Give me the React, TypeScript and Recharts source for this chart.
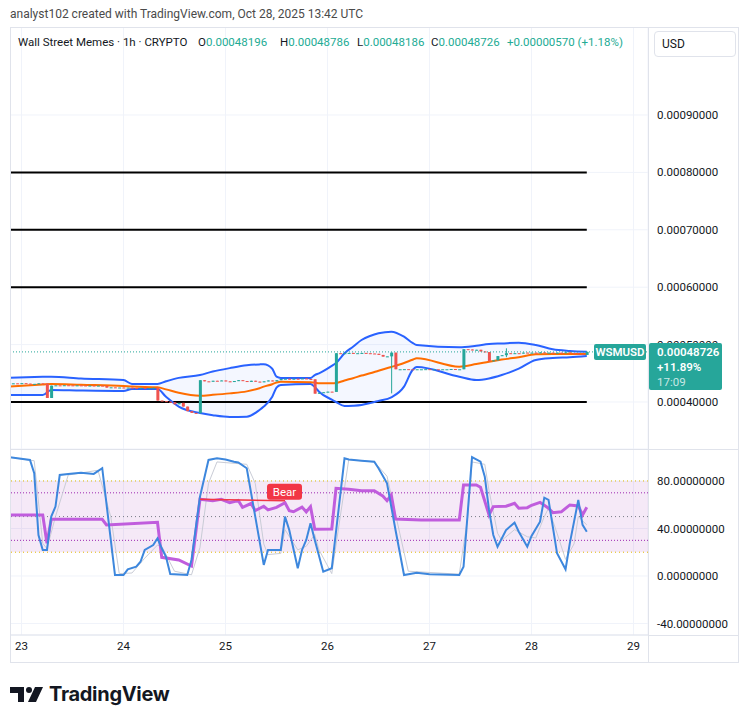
import React from 'react';
import {
  ComposedChart, Bar, Line, Area, XAxis, YAxis, CartesianGrid,
  ReferenceLine, ReferenceArea, ReferenceDot,
} from 'recharts';

// ---------------- data (price unit: 1e-6 USD, hour 0 = Oct 23 00:00 UTC) ----------------
const FIRST_HOUR = -2;
const firstOpen = 432.0;
const closes = [
  432.5, 432.0, 432.8, 432.0, 431.5, 431.6, 432.5, 432.0, 407.0, 428.5, // -2..7
  429.0, 428.5, 429.2, 429.0, 428.5, 429.0, 428.8, 428.4, 428.6, 428.0, // 8..17
  428.5, 428.0, 425.0, 425.5, 425.0, 425.2, 424.5, 425.0, 424.5, 424.0, // 18..27
  424.6, 424.0, 424.2, 424.8, 402.5, 401.5, 400.5, 399.5, 396.0, 398.5, // 28..37
  392.0, 384.0, 381.0, 380.5, 438.0, 436.0, 435.5, 437.0, 436.5, 437.5, // 38..47
  436.0, 435.0, 436.5, 438.0, 436.5, 435.0, 437.0, 435.5, 434.5, 436.0, // 48..57
  437.5, 436.0, 438.0, 440.0, 440.5, 439.5, 440.5, 440.0, 441.0, 440.0, // 58..67
  439.5, 414.5, 416.0, 417.0, 418.0, 417.5, 485.0, 484.5, 485.0, 485.5, // 68..77
  484.5, 485.0, 485.5, 485.0, 484.5, 484.0, 482.0, 479.0, 479.5, 486.0, // 78..87
  457.0, 457.0, 457.2, 457.0, 456.8, 457.0, 457.0, 457.2, 457.0, 457.0, // 88..97
  456.8, 457.0, 457.0, 457.5, 457.0, 457.0, 492.0, 491.5, 490.0, 491.0, // 98..107
  488.0, 487.0, 471.0, 472.5, 480.0, 481.5, 485.0, 484.0, 485.0, 484.5, // 108..117
  486.0, 485.5, 486.0, 485.0, 486.5, 485.5, 486.0, 485.0, 486.0, 485.5, // 118..127
  486.5, 485.0, 484.5, 483.5, 481.96, 487.26,                           // 128..133
];
const wickHours = [87, 114, 133];
const wickHighs = [486.5, 493.5, 487.86];
const wickLows = [415.0, 478.0, 481.86];

const bandHours = [-3, 5, 7, 14, 24, 26, 32, 34, 37, 42, 45, 49, 53, 56, 57, 59, 60, 61, 68, 69, 70, 73, 74, 76, 78, 80, 82, 84, 87, 90, 92, 93, 103, 107, 110, 113, 117, 121, 125, 129, 133];
const bandUpper = [442.3, 443.8, 444, 441, 438.3, 431.4, 431.4, 436, 442, 447, 453, 459, 464, 465.5, 465.7, 458, 444, 441.8, 441.8, 447, 450, 463, 468, 485, 496.3, 508, 515, 519.7, 522.5, 513.8, 503, 499.3, 495.3, 498, 501, 502, 503.3, 499.3, 491.8, 489, 487.6];
const bandLower = [412.2, 412.2, 421, 420, 419.2, 422.6, 422.6, 409, 392, 380.8, 377, 373.9, 374.4, 386, 392, 409.2, 425, 429.6, 431.4, 426, 418, 404, 400, 393, 393.5, 394.8, 398, 402, 408.2, 426.7, 455.7, 461, 444, 438.3, 441, 447, 458, 473.2, 476.5, 477.9, 480.1];
const bandBasis = [426.7, 430.5, 431.4, 430, 427.9, 426.8, 425.6, 422, 416, 411, 412.5, 415, 418.5, 424, 426.7, 431, 434, 435.4, 434.3, 433.8, 432.6, 432.6, 433, 437.5, 441.5, 446, 450, 454.5, 461, 468, 473.5, 476.1, 461.5, 466, 470.2, 474, 478, 483.1, 483.5, 483.6, 483.6];

const levelLines = [400, 600, 700, 800];
const priceTicks = [400, 500, 600, 700, 800, 900];
const dayTicks = [0, 24, 48, 72, 96, 120, 144];
const dayLabels = ['23', '24', '25', '26', '27', '28', '29'];

const kHours = [-3, 2, 3, 4, 5, 6, 7, 8, 9, 11, 14, 17, 19, 22, 24, 25, 27, 28, 29, 31, 32, 33, 34, 35, 39, 40, 42, 44, 46, 48, 50, 51, 53, 55, 57, 58, 61, 62, 63, 65, 66, 67, 68, 69, 71, 73, 76, 77, 80, 83, 84, 86, 88, 90, 93, 96, 103, 104, 106, 108, 109, 110, 111, 112, 114, 116, 117, 119, 120, 122, 123, 124, 125, 126, 128, 129, 131, 132, 133];
const kValues = [100, 97.7, 86.5, 34.5, 21.9, 21.9, 50, 58.4, 85, 85.9, 87, 85.9, 90.7, 0.8, 0.8, 5.6, 7.8, 12, 21.9, 26, 31.7, 23.3, 16.2, 1.7, 0.8, 13.5, 66.8, 97.7, 99, 98, 96.2, 95.5, 90.7, 50, 9.3, 21.9, 21.9, 50, 38.7, 6.5, 21.9, 30.3, 44.4, 30.3, 3.6, 6.5, 99, 98, 97, 96.2, 90.7, 78, 38.7, 0.8, 2.8, 1.5, 0.8, 7.8, 100, 96.2, 83.6, 55.6, 34.5, 24.7, 38.7, 44.9, 37.3, 24.7, 33.7, 45.7, 65.9, 64, 41.5, 19.1, 5.6, 27.5, 64, 43, 37.3];
const dHours = [-3, 3, 5, 6, 8, 11, 18, 21, 23, 26, 29, 32, 33, 36, 40, 42, 44, 46, 53, 55, 57, 58, 61, 62, 65, 67, 69, 70, 73, 75, 77, 83, 86, 89, 91, 103, 105, 106, 109, 110, 112, 113, 116, 119, 121, 123, 124, 126, 128, 130, 131, 133];
const dValues = [100, 97, 27.5, 23, 50, 85, 89, 50, 2, 2.5, 15, 26, 25, 4, 1, 24, 78, 96, 94, 78, 27, 18, 19, 39, 22, 25, 35, 22, 2, 50, 98, 96, 84, 36, 4, 1.5, 50, 96, 94, 72, 36, 30, 39, 33, 32, 50, 57, 36, 14, 27, 50, 43];
const rsiHours = [-3, 5, 6, 7, 19, 20, 32, 33, 37, 40, 42, 45, 47, 49, 51, 52, 54, 55, 57, 58, 60, 62, 63, 64, 66, 67, 68, 69, 73, 74, 77, 80, 83, 85, 86, 87, 88, 94, 103, 104, 107, 108, 110, 111, 114, 116, 117, 119, 120, 122, 124, 125, 127, 129, 131, 132, 133];
const rsiValues = [51.4, 51.4, 27.5, 47.7, 47.7, 43, 45.2, 15.7, 13.5, 8.4, 64.6, 63.4, 64.6, 61.7, 63.5, 57.8, 61, 55, 58.7, 55.6, 57.8, 61.7, 55, 54.1, 58, 54, 58.4, 39.3, 39.6, 73.8, 73, 71.8, 71.8, 67.3, 63.4, 68.2, 48, 47.1, 47.1, 76.6, 76.6, 74.7, 51.4, 58.4, 58.7, 61.2, 57, 57.5, 59.5, 62, 57, 53.3, 54, 59.8, 59, 51.4, 57.8];
const oscTicks = [80, 40, 0, -40];
const bearStart = { h: 42, v: 64.6 };
const bearEnd = { h: 62, v: 63.4 };

const headerValues = { o: '0.00048196', h: '0.00048786', l: '0.00048186', c: '0.00048726', chg: '+0.00000570 (+1.18%)' };
const lastPrice = 487.26;
const lastPriceText = '0.00048726';
const lastChangeText = '+11.89%';
const countdownText = '17:09';

// ---------------- layout constants ----------------
const X_MIN = -2.7;
const X_MAX = 147.4;
const PRICE_MIN = 318.1;
const PRICE_MAX = 1053.3;
const OSC_MIN = -49.7;
const OSC_MAX = 106.9;
const FONT = 'Roboto, "Noto Sans", sans-serif';
const TEXT = '#131722';
const GREEN = '#26a69a';
const RED = '#ef5350';
const GRID = '#f0f3fa';
const BORDER = '#e0e3eb';

const candleRows = closes.map((c, i) => {
  const h = FIRST_HOUR + i;
  const o = i === 0 ? firstOpen : closes[i - 1];
  const w = wickHours.indexOf(h);
  const hi = w >= 0 ? wickHighs[w] : Math.max(o, c);
  const lo = w >= 0 ? wickLows[w] : Math.min(o, c);
  return { h, o, c, hi, lo, top: Math.max(hi, lo + 0.2) };
});

const bandRows = bandHours.map((h, i) => ({ h, up: bandUpper[i], dn: bandLower[i], mid: bandBasis[i] }));

const oscRows: any[] = [];
for (let h = -3; h <= 133; h++) {
  const ki = kHours.indexOf(h);
  const di = dHours.indexOf(h);
  const ri = rsiHours.indexOf(h);
  oscRows.push({
    h,
    k: ki >= 0 ? kValues[ki] : null,
    d: di >= 0 ? dValues[di] : null,
    rsi: ri >= 0 ? rsiValues[ri] : null,
  });
}

const fmtPrice = (v: number) => (v * 1e-6).toFixed(8);

const Candle = (props: any) => {
  let { x, y, width, height } = props;
  const p = props.payload;
  if (!p || p.o == null || x == null || y == null) return null;
  if (height < 0) { y += height; height = -height; }
  const range = p.top - p.lo;
  const ratio = range > 0 ? height / range : 0;
  const yOf = (v: number) => y + (p.top - v) * ratio;
  const color = p.c >= p.o ? GREEN : RED;
  const cx = x + width / 2;
  const bTop = yOf(Math.max(p.o, p.c));
  const bBot = yOf(Math.min(p.o, p.c));
  return (
    <g>
      <line x1={cx} x2={cx} y1={yOf(p.hi)} y2={yOf(p.lo)} stroke={color} strokeWidth={1} />
      <rect x={x} y={bTop} width={width} height={Math.max(1, bBot - bTop)} fill={color} />
    </g>
  );
};

const PriceTag = (props: any) => {
  const vb = props.viewBox;
  if (!vb) return null;
  const right = vb.x + vb.width;
  const y = vb.y;
  return (
    <g fontFamily={FONT}>
      <rect x={right - 54} y={y - 8} width={52} height={16} rx={2} fill={GREEN} />
      <text x={right - 28} y={y + 4} textAnchor="middle" fill="#fff" fontSize={11.5} fontWeight={600}>WSMUSD</text>
      <rect x={right + 1} y={y - 9} width={73} height={47} rx={2} fill={GREEN} />
      <text x={right + 9} y={y + 4} fill="#fff" fontSize={11.5} fontWeight={600}>{lastPriceText}</text>
      <text x={right + 9} y={y + 19} fill="#fff" fontSize={11.5} fontWeight={600}>{lastChangeText}</text>
      <text x={right + 9} y={y + 34} fill="rgba(255,255,255,0.75)" fontSize={11.5}>{countdownText}</text>
    </g>
  );
};

const BearTag = (props: any) => {
  const { cx, cy } = props;
  if (cx == null) return null;
  return (
    <g fontFamily={FONT}>
      <rect x={cx - 18} y={cy - 17} width={35} height={16} rx={3} fill="#f23645" />
      <text x={cx - 0.5} y={cy - 5} textAnchor="middle" fill="#fff" fontSize={11.5}>Bear</text>
    </g>
  );
};

const hLine = (left: number, top: number, width: number, color = BORDER) => (
  <div style={{ position: 'absolute', left, top, width, height: 1, background: color }} />
);
const vLine = (left: number, top: number, height: number, color = BORDER) => (
  <div style={{ position: 'absolute', left, top, width: 1, height, background: color }} />
);

const Logo = () => (
  <div style={{ position: 'absolute', left: 10, top: 682, display: 'flex', alignItems: 'center' }}>
    <svg width={36} height={20} viewBox="0 0 36 20">
      <path d="M0 3 H14 V18 H8 V9 H0 Z" fill="#131722" />
      <circle cx={19} cy={6} r={3} fill="#131722" />
      <path d="M25 3 H33 L26 18 H18 Z" fill="#131722" />
    </svg>
    <span style={{ fontFamily: 'Inter, Roboto, sans-serif', fontWeight: 700, fontSize: 20, color: '#131722', marginLeft: 3, letterSpacing: -0.3 }}>TradingView</span>
  </div>
);

export default function App() {
  const legendLabel = { color: TEXT };
  const legendValue = { color: '#22ab94' };
  return (
    <div style={{ position: 'absolute', left: 0, top: 0, width: 750, height: 723, background: '#fff', fontFamily: FONT, overflow: 'hidden' }}>
      <div style={{ position: 'absolute', left: 10, top: 7, fontSize: 12, color: '#4a4a4a', whiteSpace: 'nowrap' }}>
        analyst102 created with TradingView.com, Oct 28, 2025 13:42 UTC
      </div>

      {/* price pane: bands layer */}
      <div style={{ position: 'absolute', left: 10, top: 27 }}>
        <ComposedChart width={728} height={422} data={bandRows} margin={{ top: 0, right: 0, bottom: 0, left: 0 }}>
          <CartesianGrid stroke={GRID} />
          <XAxis type="number" dataKey="h" domain={[X_MIN, X_MAX]} ticks={dayTicks} allowDataOverflow hide />
          <YAxis orientation="right" width={90} domain={[PRICE_MIN, PRICE_MAX]} ticks={priceTicks} allowDataOverflow
            tickFormatter={fmtPrice} axisLine={false} tickLine={false} tickSize={0} tickMargin={9}
            tick={{ fill: TEXT, fontSize: 11.5, fontFamily: FONT }} />
          <Area dataKey={(d: any) => [d.dn, d.up]} type="monotone" stroke="none" fill="#2962ff" fillOpacity={0.05} isAnimationActive={false} />
          {levelLines.map((v) => (
            <ReferenceLine key={v} segment={[{ x: X_MIN, y: v }, { x: 133, y: v }]} stroke="#000" strokeWidth={2} />
          ))}
          <Line dataKey="up" type="monotone" stroke="#2962ff" strokeWidth={2} dot={false} isAnimationActive={false} />
          <Line dataKey="dn" type="monotone" stroke="#2962ff" strokeWidth={2} dot={false} isAnimationActive={false} />
          <Line dataKey="mid" type="monotone" stroke="#ff6d00" strokeWidth={2} dot={false} isAnimationActive={false} />
        </ComposedChart>
      </div>

      {/* price pane: candles layer */}
      <div style={{ position: 'absolute', left: 10, top: 27 }}>
        <ComposedChart width={728} height={422} data={candleRows} margin={{ top: 0, right: 90, bottom: 0, left: 0 }}>
          <XAxis type="number" dataKey="h" domain={[X_MIN, X_MAX]} allowDataOverflow hide />
          <YAxis domain={[PRICE_MIN, PRICE_MAX]} allowDataOverflow hide />
          <ReferenceLine y={lastPrice} stroke={GREEN} strokeDasharray="1 2" strokeWidth={1} label={<PriceTag />} />
          <Bar dataKey={(d: any) => [d.lo, d.top]} barSize={3} shape={<Candle />} isAnimationActive={false} />
        </ComposedChart>
      </div>

      {/* oscillator pane */}
      <div style={{ position: 'absolute', left: 10, top: 449 }}>
        <ComposedChart width={728} height={213} data={oscRows} margin={{ top: 0, right: 0, bottom: 0, left: 0 }}>
          <CartesianGrid stroke={GRID} />
          <XAxis type="number" dataKey="h" domain={[X_MIN, X_MAX]} ticks={dayTicks} interval={0} allowDataOverflow height={27}
            tickFormatter={(v: number) => dayLabels[dayTicks.indexOf(v)] ?? ''}
            axisLine={{ stroke: BORDER }} tickLine={false} tickSize={0} tickMargin={7}
            tick={{ fill: TEXT, fontSize: 11.5, fontFamily: FONT }} />
          <YAxis orientation="right" width={90} domain={[OSC_MIN, OSC_MAX]} ticks={oscTicks} allowDataOverflow
            tickFormatter={(v: number) => v.toFixed(8)} axisLine={false} tickLine={false} tickSize={0} tickMargin={9}
            tick={{ fill: TEXT, fontSize: 11.5, fontFamily: FONT }} />
          <ReferenceArea y1={20} y2={80} fill="#9c27b0" fillOpacity={0.1} stroke="none" />
          <ReferenceLine y={80} stroke="#e0b800" strokeDasharray="1 3" />
          <ReferenceLine y={20} stroke="#e0b800" strokeDasharray="1 3" />
          <ReferenceLine y={70} stroke="#9c27b0" strokeDasharray="1 2" />
          <ReferenceLine y={30} stroke="#9c27b0" strokeDasharray="1 2" />
          <ReferenceLine y={50} stroke="#787b86" strokeDasharray="1 3" />
          <Line dataKey="d" type="linear" connectNulls stroke="#c9ccd6" strokeWidth={1} dot={false} isAnimationActive={false} />
          <Line dataKey="rsi" type="linear" connectNulls stroke="#c05ddd" strokeWidth={3} dot={false} isAnimationActive={false} />
          <Line dataKey="k" type="linear" connectNulls stroke="#3d87dd" strokeWidth={2} dot={false} isAnimationActive={false} />
          <ReferenceLine segment={[{ x: bearStart.h, y: bearStart.v }, { x: bearEnd.h, y: bearEnd.v }]} stroke="#f23645" strokeWidth={1.5} />
          <ReferenceDot x={bearEnd.h} y={bearEnd.v} r={0} shape={<BearTag />} />
        </ComposedChart>
      </div>

      {/* frame */}
      {hLine(10, 27, 729)}
      {hLine(10, 449, 729)}
      {hLine(648, 635, 91)}
      {hLine(10, 662, 729)}
      {vLine(10, 27, 635)}
      {vLine(648, 27, 635)}
      {vLine(738, 27, 635)}

      {/* legend row */}
      <div style={{ position: 'absolute', left: 0, top: 35, fontSize: 11.5, whiteSpace: 'nowrap', lineHeight: '14px' }}>
        <span style={{ position: 'absolute', left: 18, ...legendLabel }}>Wall Street Memes · 1h · CRYPTO</span>
        <span style={{ position: 'absolute', left: 198 }}><span style={legendLabel}>O</span><span style={legendValue}>{headerValues.o}</span></span>
        <span style={{ position: 'absolute', left: 280 }}><span style={legendLabel}>H</span><span style={legendValue}>{headerValues.h}</span></span>
        <span style={{ position: 'absolute', left: 357 }}><span style={legendLabel}>L</span><span style={legendValue}>{headerValues.l}</span></span>
        <span style={{ position: 'absolute', left: 431 }}><span style={legendLabel}>C</span><span style={legendValue}>{headerValues.c}</span></span>
        <span style={{ position: 'absolute', left: 507, ...legendValue }}>{headerValues.chg}</span>
      </div>
      <div style={{ position: 'absolute', left: 654, top: 31, width: 82, height: 26, boxSizing: 'border-box', border: `1px solid ${BORDER}`, borderRadius: 4, background: '#fff', fontSize: 12, color: TEXT, lineHeight: '24px', paddingLeft: 7 }}>
        USD
      </div>

      <Logo />
    </div>
  );
}
